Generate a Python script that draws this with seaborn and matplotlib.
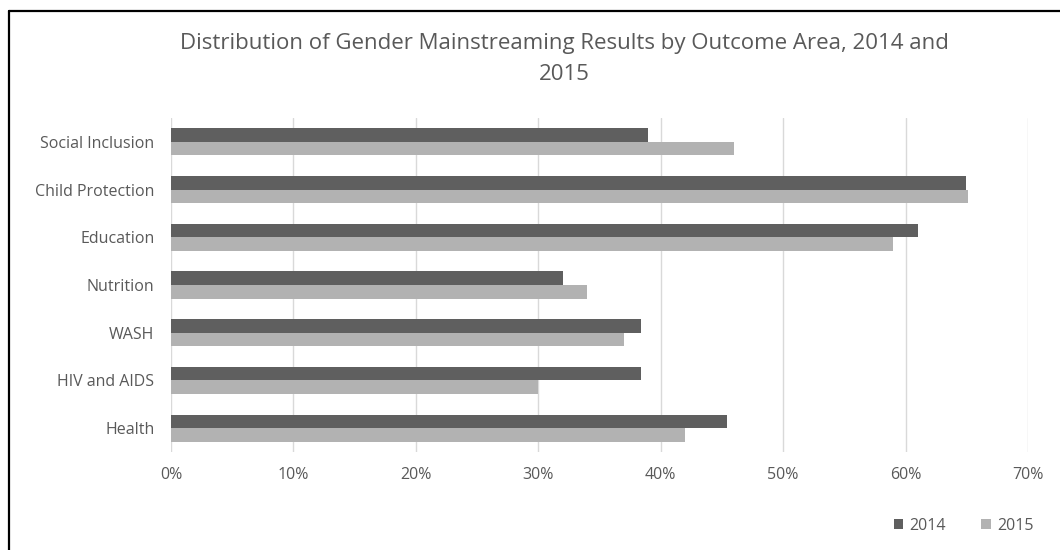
import pandas as pd
import matplotlib.pyplot as plt
import seaborn as sns
from matplotlib.ticker import PercentFormatter
from matplotlib.lines import Line2D
from matplotlib.patches import Patch

# Data (percent)
areas = ["Social Inclusion", "Child Protection", "Education", "Nutrition",
         "WASH", "HIV and AIDS", "Health"]
years = ["2014", "2015"]
vals_2014 = [39.0, 64.9, 61.0, 32.0, 38.4, 38.4, 45.4]
vals_2015 = [46.0, 65.1, 59.0, 34.0, 37.0, 30.0, 42.0]
x_ticks = [0, 10, 20, 30, 40, 50, 60, 70]
colors = ["#5f5f5f", "#b2b2b2"]
text_col = "#595959"

df = pd.DataFrame({
    "area": areas * 2,
    "year": ["2014"] * len(areas) + ["2015"] * len(areas),
    "value": vals_2014 + vals_2015,
})

sns.set_theme(style="white")
plt.rcParams["font.family"] = ["Open Sans", "DejaVu Sans"]

fig = plt.figure(figsize=(10.6, 5.5), dpi=100)
ax = fig.add_axes([171 / 1060, 1 - 452 / 550, (1028 - 171) / 1060, (452 - 118) / 550])

sns.barplot(data=df, y="area", x="value", hue="year", order=areas,
            hue_order=years, palette=colors, orient="h", width=0.57,
            saturation=1, linewidth=0, ax=ax, legend=False)

ax.set_xlim(0, 70)
ax.set_ylim(len(areas) - 0.5, -0.5)
ax.set_xticks(x_ticks)
ax.xaxis.set_major_formatter(PercentFormatter(decimals=0))
ax.grid(axis="x", color="#d9d9d9", linewidth=1)
ax.set_axisbelow(True)
for s in ax.spines.values():
    s.set_visible(False)
ax.set_xlabel("")
ax.set_ylabel("")
ax.tick_params(axis="x", length=0, pad=11, labelsize=11.5, labelcolor=text_col)
ax.tick_params(axis="y", length=0, pad=12, labelsize=11.5, labelcolor=text_col)

fig.text(564 / 1060, 1 - 44 / 550,
         "Distribution of Gender Mainstreaming Results by Outcome Area, 2014 and",
         ha="center", va="center", fontsize=16, color=text_col)
fig.text(564 / 1060, 1 - 75 / 550, "2015",
         ha="center", va="center", fontsize=16, color=text_col)

handles = [Patch(facecolor=c, edgecolor="none", label=y) for c, y in zip(colors, years)]
fig.legend(handles=handles, loc="center right", bbox_to_anchor=(1048 / 1060, 1 - 526 / 550),
           ncol=2, frameon=False, fontsize=11.5, labelcolor=text_col,
           handlelength=0.6, handleheight=0.6, handletextpad=0.4, columnspacing=2.2)

# chart frame (left and top edges visible)
fig.add_artist(Line2D([9 / 1060, 9 / 1060], [0, 1 - 11 / 550], color="black", linewidth=1.6))
fig.add_artist(Line2D([9 / 1060, 1], [1 - 11 / 550, 1 - 11 / 550], color="black", linewidth=1.6))

fig.savefig("out.png", dpi=100)
